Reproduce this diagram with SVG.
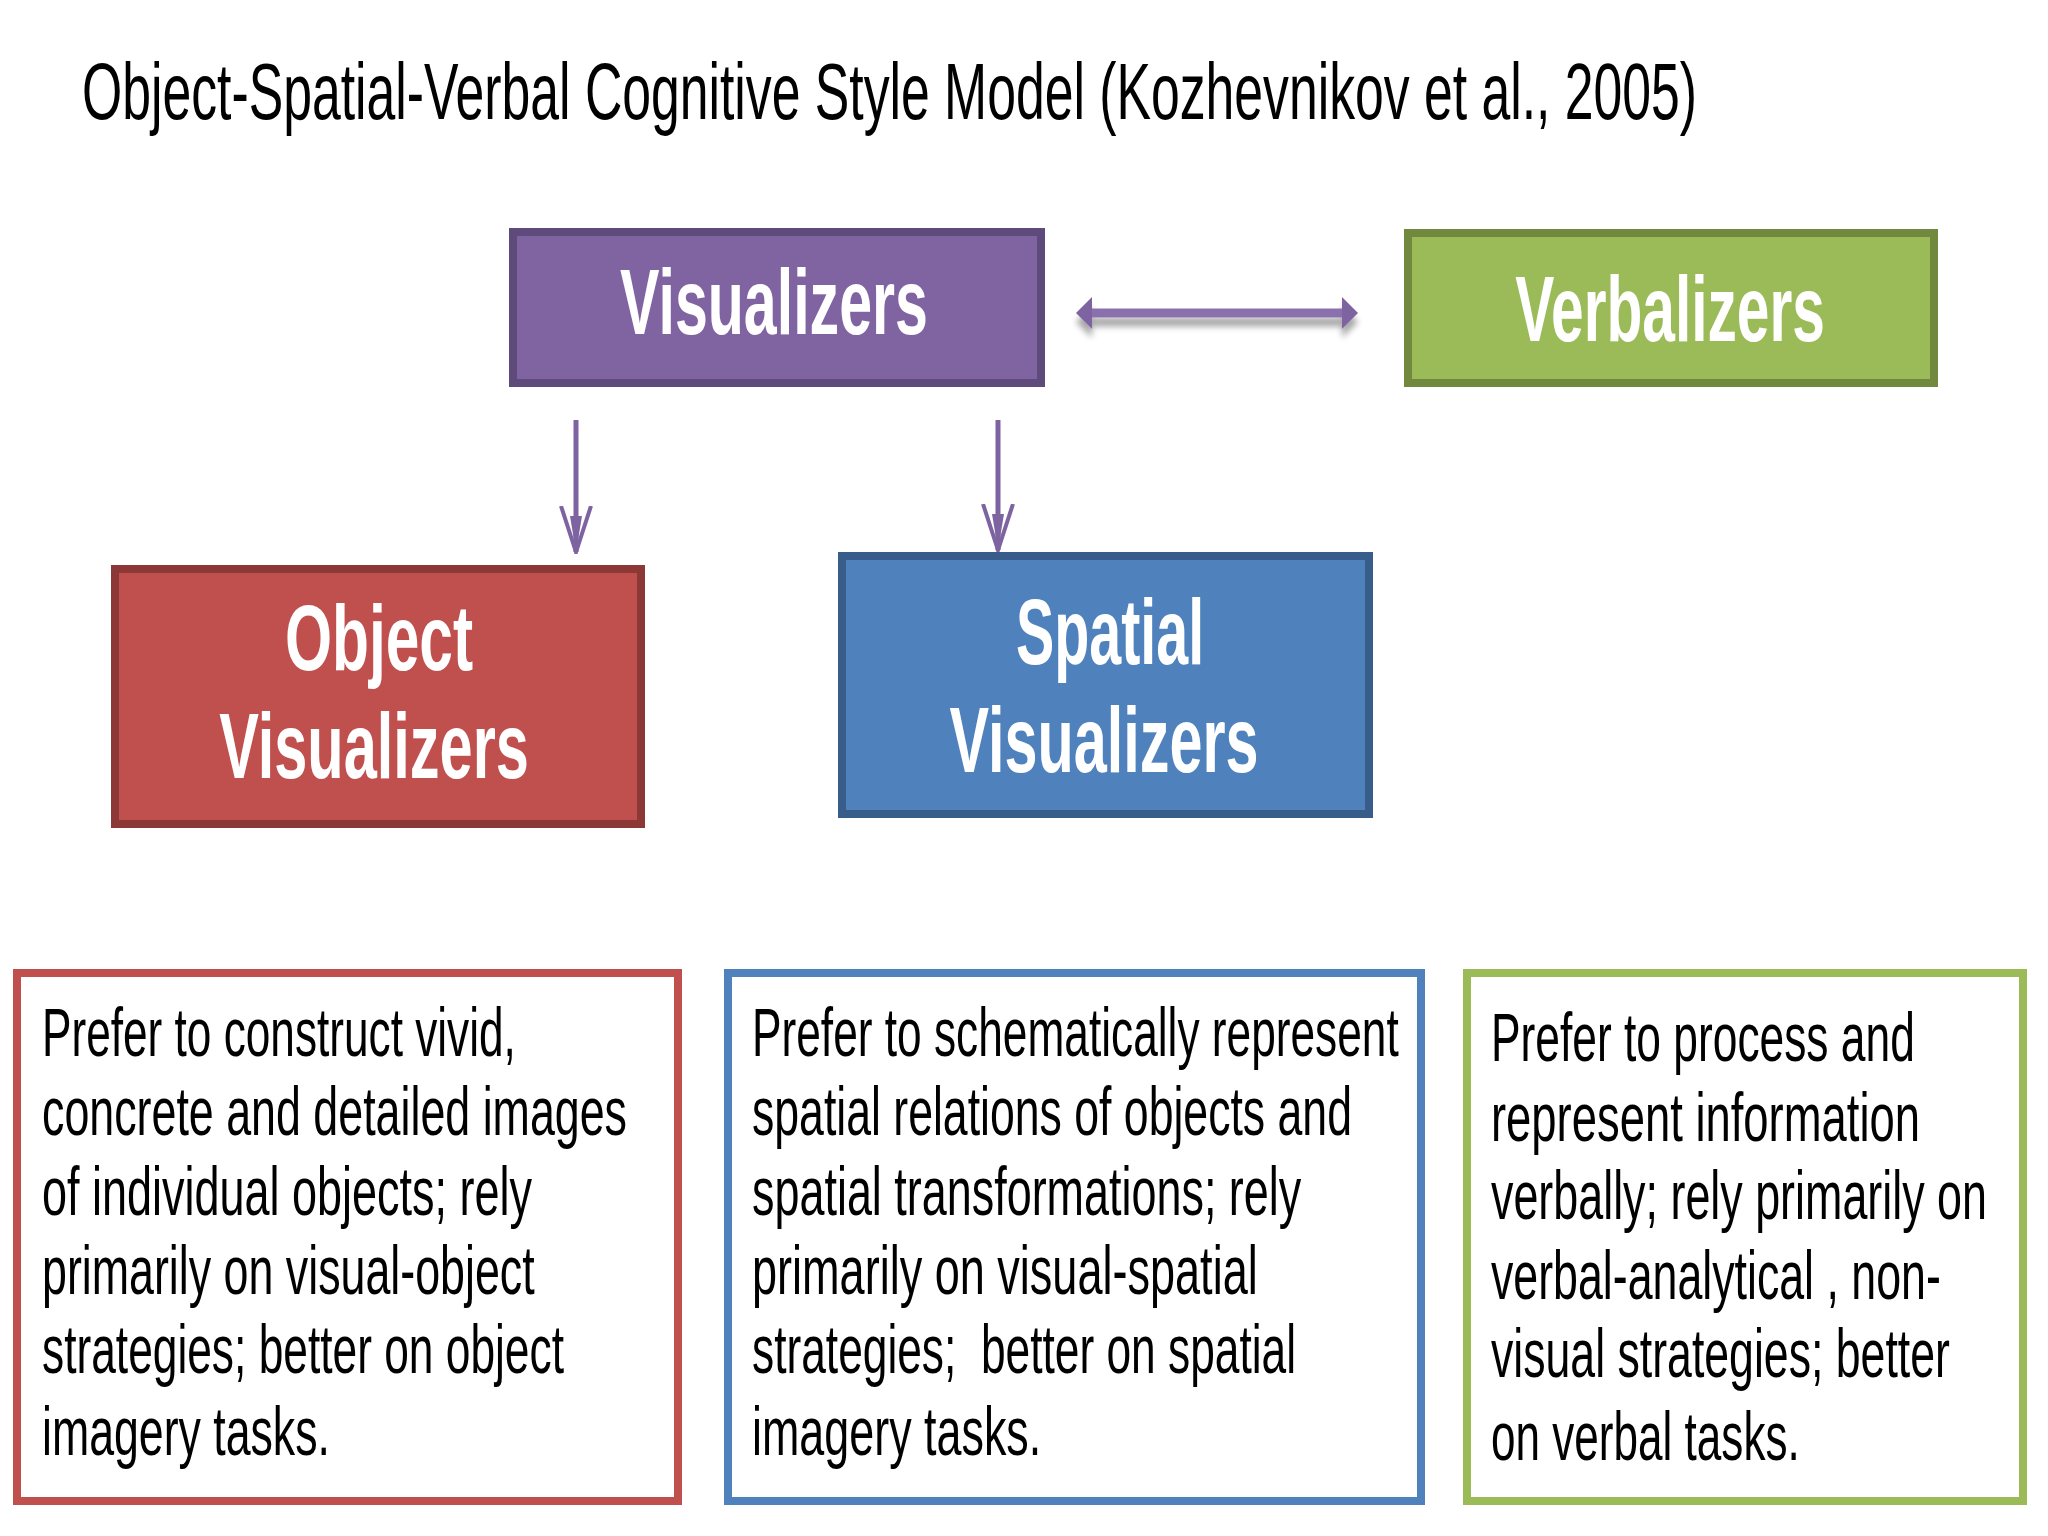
<svg xmlns="http://www.w3.org/2000/svg" width="2048" height="1536" viewBox="0 0 2048 1536">
<defs>
<style>
.title{font-family:"Liberation Sans",Arial,sans-serif;font-size:80px;fill:#000}
.lbl{font-family:"Liberation Sans",Arial,sans-serif;font-size:92px;font-weight:bold;fill:#fff;text-anchor:middle}
.desc{font-family:"Liberation Sans",Arial,sans-serif;font-size:68px;fill:#000}
.conn{stroke:#7E63A1;stroke-width:5;fill:none}
</style>
<filter id="sh" x="-10%" y="-50%" width="120%" height="250%">
<feGaussianBlur in="SourceAlpha" stdDeviation="3"/>
<feOffset dx="0" dy="9" result="b"/>
<feComponentTransfer><feFuncA type="linear" slope="0.35"/></feComponentTransfer>
<feMerge><feMergeNode/><feMergeNode in="SourceGraphic"/></feMerge>
</filter>
<marker id="ah" viewBox="0 0 48 36" refX="46" refY="18" markerWidth="48" markerHeight="36" markerUnits="userSpaceOnUse" orient="auto">
<path d="M0,3 L46,18 L0,33 M0,18 L46,18" stroke="#7E63A1" stroke-width="4" fill="none"/>
<path d="M10,12 L46,18 L10,24 Z" fill="#7E63A1"/>
</marker>
</defs>
<rect width="2048" height="1536" fill="#fff"/>
<text class="title" transform="translate(82,119) scale(0.645,1)" textLength="2504" lengthAdjust="spacingAndGlyphs">Object-Spatial-Verbal Cognitive Style Model (Kozhevnikov et al., 2005)</text>

<g id="connectors">
<g filter="url(#sh)">
<line x1="1082" y1="313" x2="1352" y2="313" stroke="#8A70AC" stroke-width="9"/>
<path d="M1092,297 L1076,313 L1092,329 Z" fill="#7E63A1"/>
<path d="M1342,297 L1358,313 L1342,329 Z" fill="#7E63A1"/>
</g>
<line class="conn" x1="576" y1="420" x2="576" y2="552" marker-end="url(#ah)"/>
<line class="conn" x1="998" y1="420" x2="998" y2="550" marker-end="url(#ah)"/>
</g>

<g id="visualizers">
<rect x="513" y="232" width="528" height="151" fill="#8064A2" stroke="#5F4A7C" stroke-width="8"/>
<text class="lbl" transform="translate(774,334) scale(0.64,1)" textLength="481" lengthAdjust="spacingAndGlyphs">Visualizers</text>
</g>
<g id="verbalizers">
<rect x="1408" y="233" width="526" height="150" fill="#9BBB59" stroke="#71893F" stroke-width="8"/>
<text class="lbl" transform="translate(1670,341) scale(0.64,1)" textLength="484" lengthAdjust="spacingAndGlyphs">Verbalizers</text>
</g>
<g id="object-visualizers">
<rect x="115" y="569" width="526" height="255" fill="#C0504D" stroke="#8C3836" stroke-width="8"/>
<text class="lbl" transform="translate(379,670) scale(0.64,1)" textLength="294" lengthAdjust="spacingAndGlyphs">Object</text>
<text class="lbl" transform="translate(374,778) scale(0.64,1)" textLength="484" lengthAdjust="spacingAndGlyphs">Visualizers</text>
</g>
<g id="spatial-visualizers">
<rect x="842" y="556" width="527" height="258" fill="#4F81BD" stroke="#385D8A" stroke-width="8"/>
<text class="lbl" transform="translate(1110,664) scale(0.64,1)" textLength="294" lengthAdjust="spacingAndGlyphs">Spatial</text>
<text class="lbl" transform="translate(1104,772) scale(0.64,1)" textLength="483" lengthAdjust="spacingAndGlyphs">Visualizers</text>
</g>

<g id="object-description">
<rect x="17" y="973" width="661" height="528" fill="#fff" stroke="#C0504D" stroke-width="8"/>
<text class="desc" transform="translate(42,1056) scale(0.65,1)" textLength="729" lengthAdjust="spacingAndGlyphs">Prefer to construct vivid,</text>
<text class="desc" transform="translate(42,1135) scale(0.65,1)" textLength="900" lengthAdjust="spacingAndGlyphs">concrete and detailed images</text>
<text class="desc" transform="translate(42,1215) scale(0.65,1)" textLength="754" lengthAdjust="spacingAndGlyphs">of individual objects; rely</text>
<text class="desc" transform="translate(42,1294) scale(0.65,1)" textLength="758" lengthAdjust="spacingAndGlyphs">primarily on visual-object</text>
<text class="desc" transform="translate(42,1373) scale(0.65,1)" textLength="803" lengthAdjust="spacingAndGlyphs">strategies; better on object</text>
<text class="desc" transform="translate(42,1455) scale(0.65,1)" textLength="443" lengthAdjust="spacingAndGlyphs">imagery tasks.</text>
</g>
<g id="spatial-description">
<rect x="728" y="973" width="693" height="528" fill="#fff" stroke="#4F81BD" stroke-width="8"/>
<text class="desc" transform="translate(752,1056) scale(0.65,1)" textLength="995" lengthAdjust="spacingAndGlyphs">Prefer to schematically represent</text>
<text class="desc" transform="translate(752,1135) scale(0.65,1)" textLength="923" lengthAdjust="spacingAndGlyphs">spatial relations of objects and</text>
<text class="desc" transform="translate(752,1215) scale(0.65,1)" textLength="845" lengthAdjust="spacingAndGlyphs">spatial transformations; rely</text>
<text class="desc" transform="translate(752,1294) scale(0.65,1)" textLength="778" lengthAdjust="spacingAndGlyphs">primarily on visual-spatial</text>
<text class="desc" transform="translate(752,1373) scale(0.65,1)" textLength="837" lengthAdjust="spacingAndGlyphs" xml:space="preserve">strategies;  better on spatial</text>
<text class="desc" transform="translate(752,1455) scale(0.65,1)" textLength="445" lengthAdjust="spacingAndGlyphs">imagery tasks.</text>
</g>
<g id="verbal-description">
<rect x="1467" y="973" width="556" height="528" fill="#fff" stroke="#9BBB59" stroke-width="8"/>
<text class="desc" transform="translate(1491,1061) scale(0.65,1)" textLength="652" lengthAdjust="spacingAndGlyphs">Prefer to process and</text>
<text class="desc" transform="translate(1491,1141) scale(0.65,1)" textLength="660" lengthAdjust="spacingAndGlyphs">represent information</text>
<text class="desc" transform="translate(1491,1219) scale(0.65,1)" textLength="763" lengthAdjust="spacingAndGlyphs">verbally; rely primarily on</text>
<text class="desc" transform="translate(1491,1299) scale(0.65,1)" textLength="692" lengthAdjust="spacingAndGlyphs">verbal-analytical , non-</text>
<text class="desc" transform="translate(1491,1377) scale(0.65,1)" textLength="706" lengthAdjust="spacingAndGlyphs">visual strategies; better</text>
<text class="desc" transform="translate(1491,1460) scale(0.65,1)" textLength="475" lengthAdjust="spacingAndGlyphs">on verbal tasks.</text>
</g>
</svg>
